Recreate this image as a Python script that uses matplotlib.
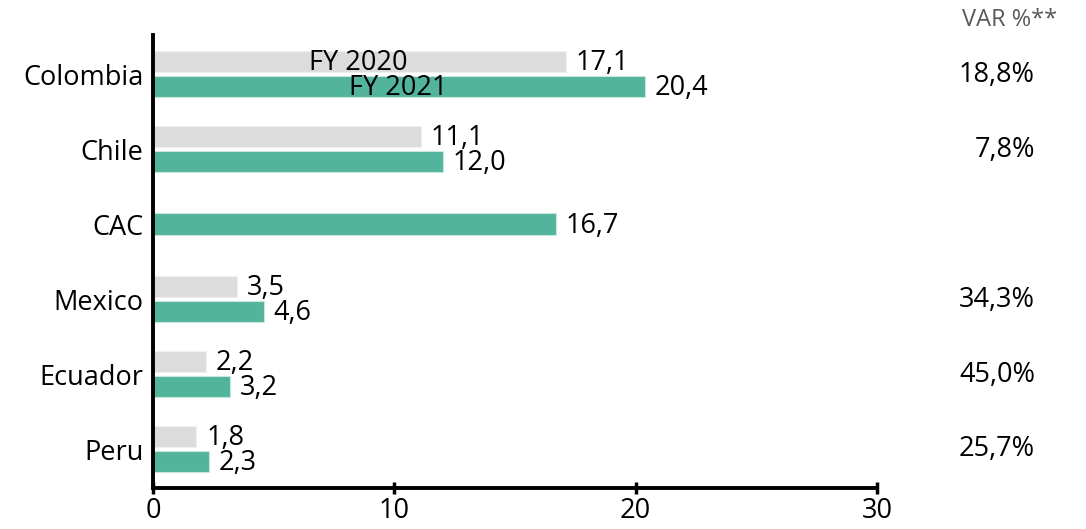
import matplotlib
matplotlib.use("Agg")
import matplotlib.pyplot as plt
import numpy as np

categories = ["Colombia", "Chile", "CAC", "Mexico", "Ecuador", "Peru"]
fy2020 = [17.1, 11.1, None, 3.5, 2.2, 1.8]
fy2021 = [20.4, 12.0, 16.7, 4.6, 3.2, 2.3]
var_pct = ["18,8%", "7,8%", "", "34,3%", "45,0%", "25,7%"]
xticks = [0, 10, 20, 30]

plt.rcParams['font.family'] = ['Open Sans', 'DejaVu Sans']

FS = 19.5
fig = plt.figure(figsize=(10.86, 5.29), dpi=100)
ax = fig.add_axes([153/1086, 1-488/529, (877-153)/1086, (488-35)/529])

gray = '#dcdcdc'
green = '#52b49b'
h = 0.285
off = 0.17
y = np.arange(len(categories))

for i, (a, b) in enumerate(zip(fy2020, fy2021)):
    if a is not None:
        ax.barh(i - off, a, height=h, color=gray, edgecolor='#f0f0f0', linewidth=0.8)
        ax.text(a + 0.4, i - off + 0.02, f"{a:.1f}".replace('.', ','), va='center', ha='left', fontsize=FS)
        gy = i + off
    else:
        gy = i
    ax.barh(gy, b, height=h, color=green, edgecolor='#c8e8df', linewidth=0.8)
    ax.text(b + 0.4, gy + 0.02, f"{b:.1f}".replace('.', ','), va='center', ha='left', fontsize=FS)
    if var_pct[i]:
        ax.text(1035/1086, 1 - (75 + i*74.9)/529, var_pct[i], transform=fig.transFigure,
                ha='right', va='center', fontsize=FS)

ax.text(8.5, 0 - off + 0.02, "FY 2020", ha='center', va='center', fontsize=FS)
ax.text(10.15, 0 + off + 0.02, "FY 2021", ha='center', va='center', fontsize=FS)

fig.text(1057/1086, 1 - 20/529, "VAR %**", ha='right', va='center', fontsize=17,
         color='#595959')

ax.set_xlim(0, 30)
ax.set_ylim(5.52, -0.52)
ax.set_yticks(y)
ax.set_yticklabels(categories, fontsize=FS)
ax.set_xticks(xticks)
ax.set_xticklabels([str(t) for t in xticks], fontsize=FS)
ax.tick_params(axis='y', length=0, pad=7)
ax.tick_params(axis='x', direction='inout', length=9, width=2.5, pad=2)
for s in ['top', 'right']:
    ax.spines[s].set_visible(False)
ax.spines['left'].set_linewidth(2.8)
ax.spines['bottom'].set_linewidth(2.8)

fig.savefig("out.png", dpi=100)
